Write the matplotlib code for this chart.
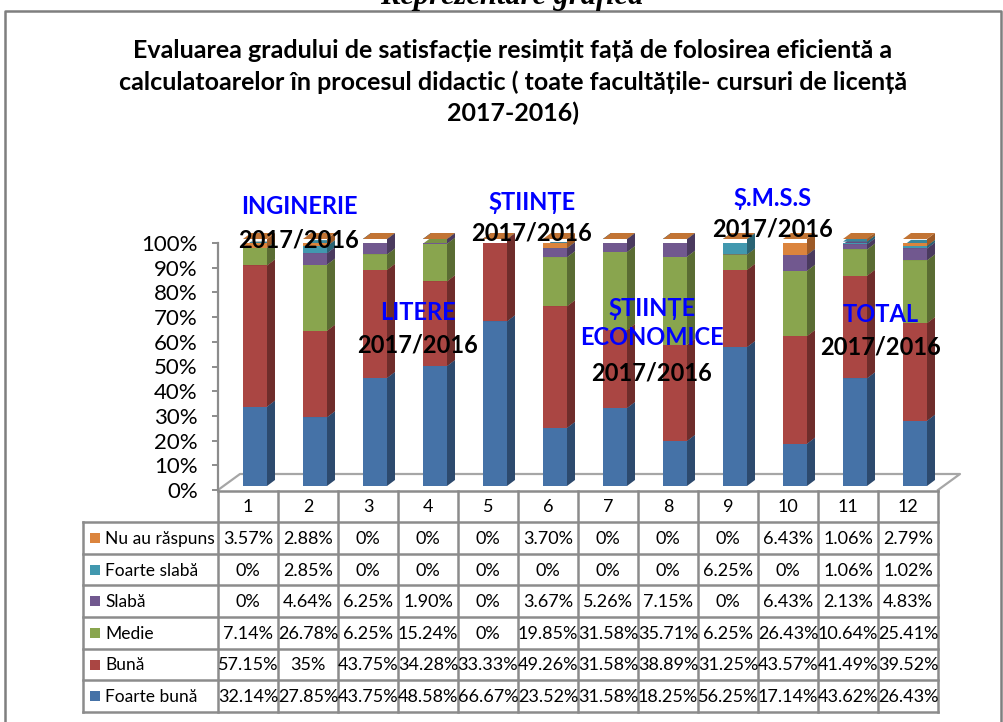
import numpy as np
import matplotlib
matplotlib.use('Agg')
import matplotlib.pyplot as plt
from matplotlib.patches import Polygon

plt.rcParams['font.family'] = ['Lato', 'DejaVu Sans']

# ── Data (stack order: bottom -> top)
categories = [str(i) for i in range(1, 13)]
series_names = ["Foarte bună", "Bună", "Medie", "Slabă", "Foarte slabă", "Nu au răspuns"]
foarte_buna  = [32.14, 27.85, 43.75, 48.58, 66.67, 23.52, 31.58, 18.25, 56.25, 17.14, 43.62, 26.43]
buna         = [57.15, 35, 43.75, 34.28, 33.33, 49.26, 31.58, 38.89, 31.25, 43.57, 41.49, 39.52]
medie        = [7.14, 26.78, 6.25, 15.24, 0, 19.85, 31.58, 35.71, 6.25, 26.43, 10.64, 25.41]
slaba        = [0, 4.64, 6.25, 1.90, 0, 3.67, 5.26, 7.15, 0, 6.43, 2.13, 4.83]
foarte_slaba = [0, 2.85, 0, 0, 0, 0, 0, 0, 6.25, 0, 1.06, 1.02]
nu_au        = [3.57, 2.88, 0, 0, 0, 3.70, 0, 0, 0, 6.43, 1.06, 2.79]

groups = ["INGINERIE", "LITERE", "ȘTIINȚE", "ȘTIINȚE\nECONOMICE", "Ș.M.S.S", "TOTAL"]
group_year = "2017/2016"

title = ("Evaluarea gradului de satisfacție resimțit față de folosirea eficientă a\n"
         "calculatoarelor în procesul didactic ( toate facultățile- cursuri de licență\n"
         "2017-2016)")

series_vals = [foarte_buna, buna, medie, slaba, foarte_slaba, nu_au]
front_cols = ['#4572A7', '#AA4643', '#89A54E', '#71588F', '#4198AF', '#DB843D']
side_cols  = ['#2D4A6E', '#6F2D2B', '#5A6C33', '#4A3A5E', '#2A6373', '#9C5A27']
top_cols   = ['#3C6393', '#963D3A', '#7A9345', '#634D7E', '#3A869A', '#C27434']

W, H = 1004, 722
fig = plt.figure(figsize=(W / 100, H / 100), dpi=100)
fig.patch.set_facecolor('white')

def px_box(l, t, r, b):
    return [l / W, 1 - b / H, (r - l) / W, (b - t) / H]

# ── Main (pseudo 3D) chart
ax = fig.add_axes(px_box(218, 243, 938, 490))
ax.set_xlim(0, 12)
ax.set_ylim(0, 100)
sx = 12 / 720.0
sy = 100 / 247.0

bar_left = np.arange(12) + 25 * sx
bar_w = 24 * sx
base = 4 * sy
dx, dy = 8 * sx, 6 * sy

# floor
fdx, fdy = 22 * sx, 16 * sy
ax.plot([0, fdx, 12 + fdx, 12], [0, fdy, fdy, 0], color='#A6A6A6', lw=1.6,
        clip_on=False, zorder=1)

bottom = np.full(12, base)
for k, vals in enumerate(series_vals):
    vals = np.array(vals, dtype=float)
    z = 3 + k
    ax.bar(bar_left, vals, bar_w, bottom=bottom, align='edge',
           color=front_cols[k], linewidth=0, zorder=z)
    for x, b, v in zip(bar_left, bottom, vals):
        side = [(x + bar_w, b), (x + bar_w + dx, b + dy),
                (x + bar_w + dx, b + v + dy), (x + bar_w, b + v)]
        top = [(x, b + v), (x + dx, b + v + dy),
               (x + bar_w + dx, b + v + dy), (x + bar_w, b + v)]
        ax.add_patch(Polygon(side, closed=True, fc=side_cols[k], ec='none',
                             zorder=z, clip_on=False))
        ax.add_patch(Polygon(top, closed=True, fc=top_cols[k], ec='none',
                             zorder=z, clip_on=False))
    bottom = bottom + vals

for s in ['top', 'right', 'bottom']:
    ax.spines[s].set_visible(False)
ax.spines['left'].set_color('#8C8C8C')
ax.spines['left'].set_linewidth(1.6)
ax.set_yticks(np.arange(0, 101, 10))
ax.set_yticklabels([f"{t}%" for t in range(0, 101, 10)], fontsize=16)
ax.tick_params(axis='y', length=4.5, width=1.4, color='#8C8C8C', pad=10)
ax.set_xticks([])
ax.patch.set_alpha(0)

# ── Overlay in pixel coordinates: frame, title, table, labels
ov = fig.add_axes([0, 0, 1, 1], zorder=10)
ov.set_xlim(0, W)
ov.set_ylim(H, 0)
ov.axis('off')
ov.patch.set_alpha(0)

# frame
ov.plot([5, 5, 1001, 1001], [H, 11, 11, H], color='#7F7F7F', lw=1.8)
ov.text(512, 4, "Reprezentare grafică", ha='center', va='baseline',
        fontsize=22, fontweight='bold', style='italic', family='Liberation Serif')

ov.text(513, 82, title, ha='center', va='center', fontsize=18,
        fontweight='bold', linespacing=1.4)

# table
grid_c = '#8C8C8C'
col_edges = 218 + 60 * np.arange(13)
row_top, head_bot, tab_bot = 491, 522, 712
row_h = (tab_bot - head_bot) / 6.0
ov.plot([218, 938], [row_top, row_top], color=grid_c, lw=1.8)
for xe in col_edges:
    ov.plot([xe, xe], [row_top, tab_bot], color=grid_c, lw=1.8)
ov.plot([83, 83], [head_bot, tab_bot], color=grid_c, lw=1.8)
for r in range(7):
    y = head_bot + r * row_h
    ov.plot([83, 938], [y, y], color=grid_c, lw=1.8)

for i, c in enumerate(categories):
    ov.text(col_edges[i] + 30, (row_top + head_bot) / 2 + 1, c,
            ha='center', va='center', fontsize=13)

def fmt(v):
    return f"{int(v)}%" if float(v).is_integer() else f"{v:.2f}%"

for r, k in enumerate(range(5, -1, -1)):
    yc = head_bot + (r + 0.5) * row_h
    ov.add_patch(plt.Rectangle((90, yc - 5), 10, 10, fc=front_cols[k], ec='none'))
    ov.text(105, yc + 1, series_names[k], ha='left', va='center', fontsize=12.5)
    for i, v in enumerate(series_vals[k]):
        ov.text(col_edges[i] + 30, yc + 1, fmt(v), ha='center', va='center',
                fontsize=13)

# group labels
label_pos = [(299, 206, 240), (418, 313, 345), (532, 203, 233),
             (652, 323, 373), (773, 199, 229), (881, 315, 347)]
for name, (xc, yn, yy) in zip(groups, label_pos):
    ov.text(xc, yn, name, ha='center', va='center', fontsize=17,
            fontweight='bold', color='#0000FF', linespacing=1.3)
    ov.text(xc, yy, group_year, ha='center', va='center', fontsize=17,
            fontweight='bold', color='black')

fig.savefig('out.png', dpi=100)
